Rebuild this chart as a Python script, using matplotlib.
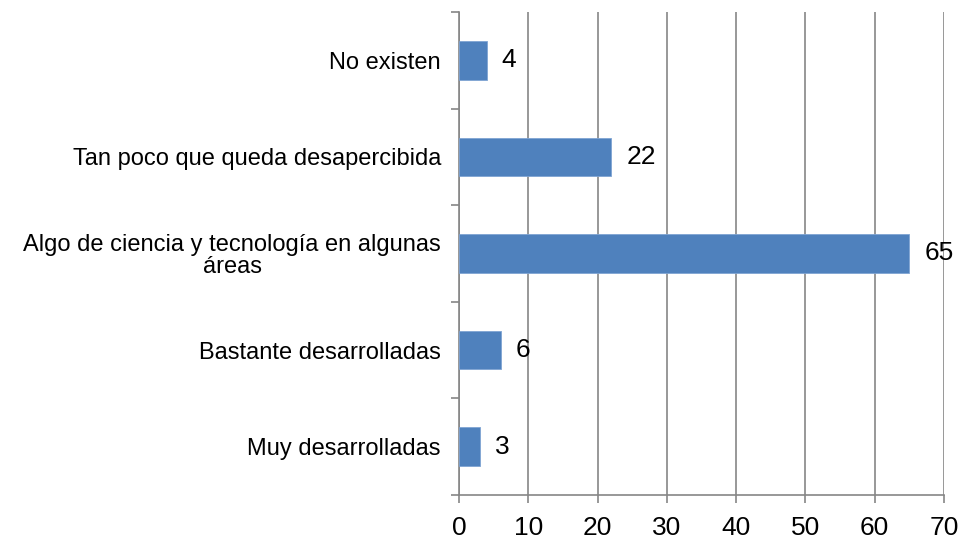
import matplotlib.pyplot as plt
import numpy as np

plt.rcParams['font.family'] = ['Liberation Sans', 'DejaVu Sans']

# Data (top to bottom as shown)
categories = ['No existen',
              'Tan poco que queda desapercibida',
              'Algo de ciencia y tecnología en algunas\náreas',
              'Bastante desarrolladas',
              'Muy desarrolladas']
values = [4, 22, 65, 6, 3]
xticks = [0, 10, 20, 30, 40, 50, 60, 70]

grey = '#868686'

fig = plt.figure(figsize=(9.62, 5.39), dpi=100)
ax = fig.add_axes([459 / 962, 1 - 495 / 539, (944 - 459) / 962, (495 - 12) / 539])

y = np.arange(len(categories))
ax.barh(y, values, height=0.4, color='#4F81BD', edgecolor='#7FA4D3', linewidth=0.6, zorder=3)

for yi, v in zip(y, values):
    ax.annotate(str(v), (v, yi), xytext=(15, 0), textcoords='offset pixels',
                va='center', ha='left', fontsize=19, color='black')

ax.set_xlim(0, 70)
ax.set_ylim(len(categories) - 0.5, -0.5)
ax.set_xticks(xticks)
ax.set_xticklabels([str(t) for t in xticks], fontsize=19)

ax.set_yticks(y)
ax.set_yticklabels(categories, fontsize=17, multialignment='center', linespacing=1.0)
ax.set_yticks(np.arange(-0.5, len(categories), 1), minor=True)
ax.tick_params(axis='y', which='major', length=0, pad=13)
ax.tick_params(axis='y', which='minor', length=6, color=grey, width=1.2)
ax.tick_params(axis='x', length=6, color=grey, width=1.2, pad=9)

ax.xaxis.grid(True, color=grey, linewidth=1.2, zorder=0)
ax.set_axisbelow(True)

for side in ['top', 'right']:
    ax.spines[side].set_visible(False)
for side in ['left', 'bottom']:
    ax.spines[side].set_color(grey)
    ax.spines[side].set_linewidth(1.2)

fig.savefig('out.png', dpi=100)
